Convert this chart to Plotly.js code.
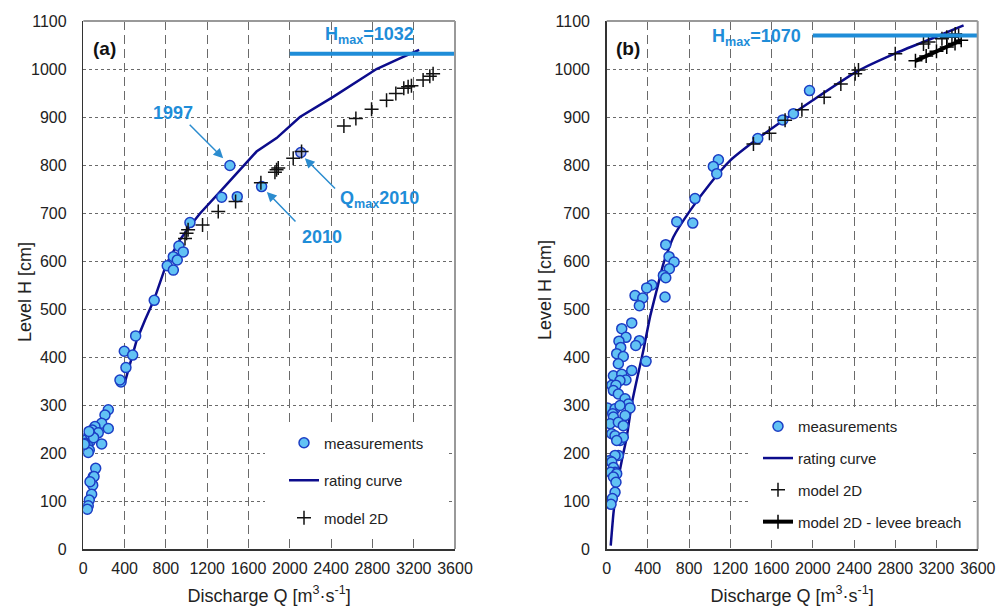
<!DOCTYPE html>
<html><head><meta charset="utf-8">
<script src="https://cdn.plot.ly/plotly-3.0.1.min.js"></script>
<style>html,body{margin:0;padding:0;background:#fff}#chart{width:1008px;height:606px}</style>
</head><body><div id="chart"></div>
<script>
// ---------- Panel (a) ----------
const aMeasQ = [1420,1340,1491,1727,2107,1033,926,872,968,813,910,872,687,507,397,478,413,365,355,242,210,178,242,113,87,145,48,26,65,178,39,16,58,48,10,120,97,75,91,81,58,48,39,104,65,70,100,55];
const aMeasH = [799,733,734,755,826,680,631,609,619,590,602,581,518,444,412,404,378,348,352,290,279,262,251,255,248,242,234,227,224,219,217,220,206,201,218,168,151,142,133,114,102,90,83,151,140,238,232,245];
const aCurveQ = [397,517,600,687,807,936,1030,1130,1323,1565,1678,1872,2098,2420,2840,3066,3253];
const aCurveH = [343,435,478,520,595,644,672,699,744,800,828,856,900,942,1000,1022,1040];
const aModelQ = [985,1000,1015,1155,1307,1475,1720,1856,1872,1888,2033,2114,2524,2640,2792,2937,3027,3104,3146,3178,3291,3356,3388];
const aModelH = [647,658,665,675,703,724,763,785,790,794,814,828,881,897,916,935,949,960,963,965,977,985,990];
const aHmax = 1032;
const aQmaxIndex = 4;

// ---------- Panel (b) ----------
const bMeasQ = [1968,1812,1709,1466,1084,1035,1068,857,680,835,573,605,654,608,550,573,437,388,275,350,317,566,243,146,187,119,136,317,282,382,97,161,113,243,65,146,187,129,49,90,65,113,178,210,6,81,129,226,58,178,65,32,113,161,49,81,129,161,97,113,81,26,49,65,81,39,97,65,90,81,55,42];
const bMeasH = [955,907,894,855,811,797,782,730,682,679,634,609,598,584,570,565,550,544,528,523,507,525,471,459,441,433,420,434,424,391,407,401,386,372,361,364,352,351,341,341,330,323,313,302,294,292,299,294,282,278,275,261,264,257,240,236,226,233,226,195,195,184,181,170,160,160,157,150,139,118,105,93];
const bCurveQ = [39,65,97,146,194,243,291,356,420,485,550,647,809,1003,1197,1466,1760,2000,2430,2806,3150,3463];
const bCurveH = [7,73,129,184,233,302,351,414,483,539,594,650,705,761,809,855,900,935,995,1033,1063,1091];
const bModelQ = [1424,1579,1731,1894,2110,2272,2411,2443,2800,3074,3123,3253,3300,3350,3382,3415];
const bModelH = [844,866,893,915,941,969,990,998,1032,1052,1056,1063,1066,1066,1073,1070];
const bLeveeQ = [2996,3100,3200,3300,3380,3440];
const bLeveeH = [1017,1027,1037,1046,1053,1060];
const bHmax = 1070;

const xTicks = [0,400,800,1200,1600,2000,2400,2800,3200,3600];
const yTicks = [0,100,200,300,400,500,600,700,800,900,1000,1100];

// ---------- styles ----------
const FONT = 'Liberation Sans, Arial, sans-serif';
const navy = '#0c0c8c';
const fill = '#62c2f4';
const edge = '#1c3ec4';
const blue = '#1f8dd8';
const measFillA = aMeasQ.map((_, i) => i === aQmaxIndex ? '#aebbe9' : fill);

const measMarker = (colors) => ({symbol:'circle', size:10, color:colors, line:{color:edge, width:1.5}});
const crossMarker = {symbol:'cross-thin', size:10, color:'#111', line:{color:'#111', width:1.5}};

const traces = [
  {x:aCurveQ, y:aCurveH, mode:'lines', name:'rating curve', line:{color:navy, width:2.5},
   xaxis:'x', yaxis:'y', legend:'legend', legendgroup:'a2', legendrank:2},
  {x:aMeasQ, y:aMeasH, mode:'markers', name:'measurements', marker:measMarker(measFillA),
   xaxis:'x', yaxis:'y', legend:'legend', legendgroup:'a1', legendrank:1},
  {x:aModelQ, y:aModelH, mode:'markers', name:'model 2D', marker:crossMarker,
   xaxis:'x', yaxis:'y', legend:'legend', legendgroup:'a3', legendrank:3},

  {x:bCurveQ, y:bCurveH, mode:'lines', name:'rating curve', line:{color:navy, width:2.5, shape:'spline', smoothing:0.5},
   xaxis:'x2', yaxis:'y2', legend:'legend2', legendgroup:'b2', legendrank:2},
  {x:bMeasQ, y:bMeasH, mode:'markers', name:'measurements', marker:measMarker(fill),
   xaxis:'x2', yaxis:'y2', legend:'legend2', legendgroup:'b1', legendrank:1},
  {x:bModelQ, y:bModelH, mode:'markers', name:'model 2D', marker:crossMarker,
   xaxis:'x2', yaxis:'y2', legend:'legend2', legendgroup:'b3', legendrank:3},
  {x:bLeveeQ, y:bLeveeH, mode:'lines+markers', name:'model 2D - levee breach', line:{color:'#000', width:4},
   marker:{symbol:'cross-thin', size:10, color:'#000', line:{color:'#000', width:1.5}},
   xaxis:'x2', yaxis:'y2', legend:'legend2', legendgroup:'b4', legendrank:4}
];

const xAxisBase = {
  range:[0,3600], tickvals:xTicks, ticktext:xTicks.map(String), showgrid:true, gridcolor:'#6a6a6a', gridwidth:1,
  griddash:'9px,5px', zeroline:false, showline:true, linecolor:'#333', linewidth:1.5,
  ticks:'outside', ticklen:4, tickcolor:'rgba(0,0,0,0)', tickfont:{family:FONT, size:16, color:'#222'},
  title:{text:'Discharge Q [m<sup>3</sup>·s<sup>-1</sup>]', font:{family:FONT, size:18, color:'#222'}, standoff:14},
  fixedrange:true
};
const yAxisBase = {
  range:[0,1100], tickvals:yTicks, ticktext:yTicks.map(String), showgrid:true, gridcolor:'#6a6a6a', gridwidth:1,
  griddash:'3px,3px', zeroline:false, showline:true, linecolor:'#333', linewidth:1.5,
  ticks:'outside', ticklen:12, tickcolor:'rgba(0,0,0,0)', tickfont:{family:FONT, size:16, color:'#222'},
  fixedrange:true
};

const frame = (xr, yr) => [
  {type:'line', xref:xr+' domain', yref:yr+' domain', x0:0, x1:1, y0:1, y1:1, line:{color:'#999', width:2}, layer:'above'},
  {type:'line', xref:xr+' domain', yref:yr+' domain', x0:1, x1:1, y0:0, y1:1, line:{color:'#999', width:2}, layer:'above'}
];

const shapes = [
  // white boxes behind the legends (no data underneath)
  {type:'rect', xref:'paper', yref:'paper', x0:265/1008, x1:446/1008, y0:(549-537)/528, y1:(549-423)/528,
   fillcolor:'#fff', line:{width:0}, layer:'above'},
  {type:'rect', xref:'paper', yref:'paper', x0:751/1008, x1:972/1008, y0:(549-540)/528, y1:(549-407)/528,
   fillcolor:'#fff', line:{width:0}, layer:'above'},
  // Hmax lines
  {type:'line', xref:'x', yref:'y', x0:2000, x1:3600, y0:aHmax, y1:aHmax, line:{color:blue, width:4}, layer:'above'},
  {type:'line', xref:'x2', yref:'y2', x0:2000, x1:3600, y0:bHmax, y1:bHmax, line:{color:blue, width:4}, layer:'above'},
  ...frame('x','y'), ...frame('x2','y2')
];

const annFont = {family:FONT, size:18, color:blue, weight:'bold'};
const arrowStyle = {showarrow:true, arrowhead:2, arrowsize:1.3, arrowwidth:1.5, arrowcolor:'#2b8ccf', text:''};
const titleFont = {family:FONT, size:18, color:'#222'};
const C = {xanchor:'center', yanchor:'middle', showarrow:false};
const annotations = [
  Object.assign({xref:'paper', yref:'paper', x:104/1008, y:(549-48)/528, text:'<b>(a)</b>', font:{family:FONT, size:19, color:'#111'}}, C),
  Object.assign({xref:'paper', yref:'paper', x:628/1008, y:(549-48)/528, text:'<b>(b)</b>', font:{family:FONT, size:19, color:'#111'}}, C),
  Object.assign({xref:'paper', yref:'paper', x:25/1008, y:(549-292)/528, text:'Level H [cm]', textangle:-90, font:titleFont}, C),
  Object.assign({xref:'paper', yref:'paper', x:545/1008, y:(549-290)/528, text:'Level H [cm]', textangle:-90, font:titleFont}, C),
  Object.assign({xref:'x', yref:'y', x:2775, y:1069, text:'<b>H<sub>max</sub>=' + aHmax + '</b>', font:annFont}, C),
  Object.assign({xref:'x2', yref:'y2', x:1456, y:1066, text:'<b>H<sub>max</sub>=' + bHmax + '</b>', font:annFont}, C),
  Object.assign({xref:'x', yref:'y', x:868, y:909, text:'<b>1997</b>', font:annFont}, C),
  Object.assign({xref:'x', yref:'y', x:2315, y:649, text:'<b>2010</b>', font:annFont}, C),
  Object.assign({xref:'x', yref:'y', x:2869, y:729, text:'<b>Q<sub>max</sub>2010</b>', font:annFont}, C),
  Object.assign({xref:'x', yref:'y', axref:'x', ayref:'y', x:1355, y:814, ax:1016, ay:887}, arrowStyle),
  Object.assign({xref:'x', yref:'y', axref:'x', ayref:'y', x:1778, y:744, ax:2069, ay:679}, arrowStyle),
  Object.assign({xref:'x', yref:'y', axref:'x', ayref:'y', x:2146, y:814, ax:2453, ay:748}, arrowStyle)
];

const legendBase = {
  xanchor:'left', yanchor:'top', bgcolor:'rgba(255,255,255,0)', borderwidth:0,
  font:{family:FONT, size:15, color:'#222'}, traceorder:'grouped', itemclick:false, itemdoubleclick:false
};

const layout = {
  width:1008, height:606, paper_bgcolor:'#fff', plot_bgcolor:'#fff',
  margin:{l:0, r:0, t:21, b:57},
  showlegend:true,
  font:{family:FONT, color:'#222'},
  xaxis:Object.assign({}, xAxisBase, {domain:[83.3/1008, 455/1008], anchor:'y'}),
  yaxis:Object.assign({}, yAxisBase, {domain:[0,1], anchor:'x'}),
  xaxis2:Object.assign({}, xAxisBase, {domain:[606.7/1008, 977.7/1008], anchor:'y2'}),
  yaxis2:Object.assign({}, yAxisBase, {domain:[0,1], anchor:'x2'}),
  legend:Object.assign({}, legendBase, {x:284/1008, y:(549-426.5)/528, tracegroupgap:15}),
  legend2:Object.assign({}, legendBase, {x:758/1008, y:(549-410)/528, tracegroupgap:9.3}),
  shapes:shapes,
  annotations:annotations
};

Plotly.newPlot('chart', traces, layout, {staticPlot:true, displayModeBar:false});
</script>
</body></html>
